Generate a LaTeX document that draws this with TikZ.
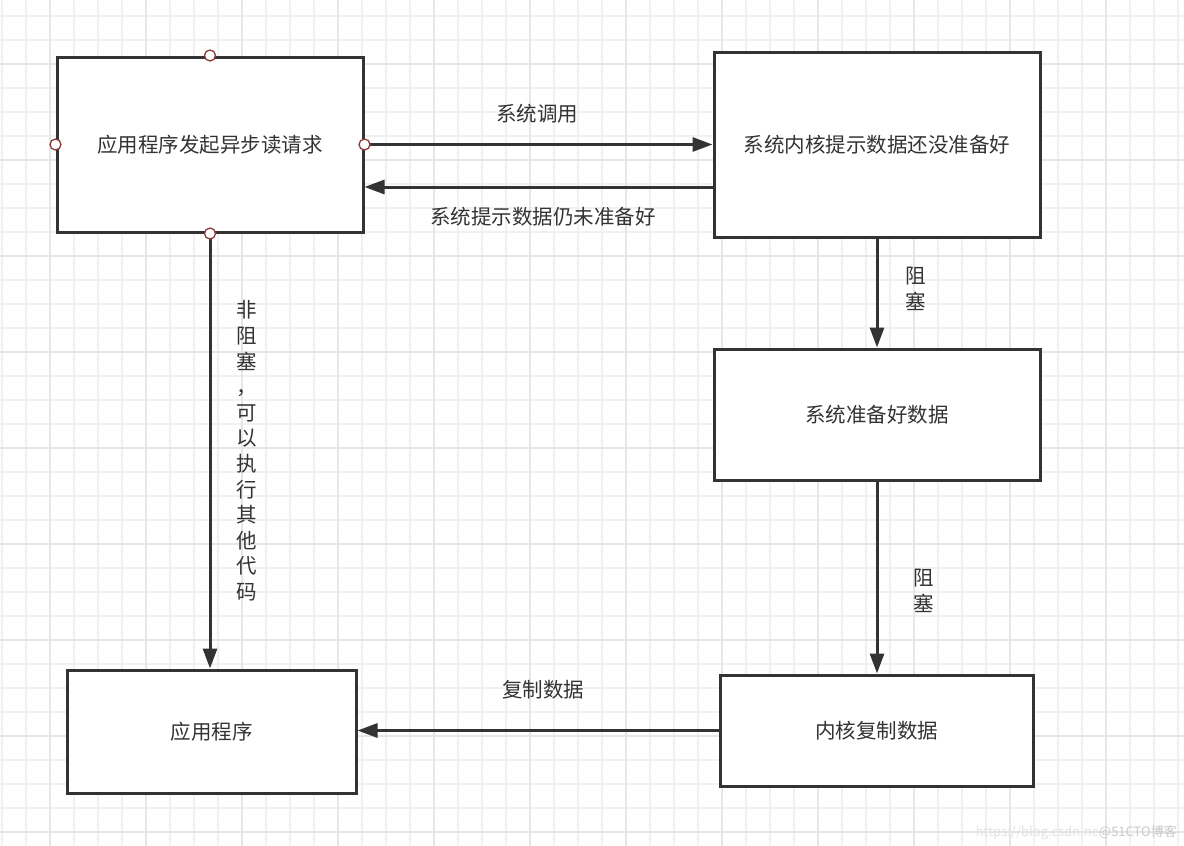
\documentclass[tikz,border=0pt]{standalone}
\usepackage{fontspec}
\newfontfamily\cjk{Noto Sans CJK SC}
\usetikzlibrary{arrows.meta}
\definecolor{ink}{HTML}{333333}
\definecolor{gridminor}{HTML}{F1F1F1}
\definecolor{gridmajor}{HTML}{E6E6E6}
\definecolor{portred}{HTML}{8E3B3B}
\tikzset{
  boxnode/.style={draw=ink, line width=3pt, fill=white, inner sep=0pt, font=\cjk\fontsize{20.5}{24}\selectfont, text=ink},
  lbl/.style={font=\cjk\fontsize{20.5}{24}\selectfont, text=ink, inner sep=0pt, align=center},
  flow/.style={draw=ink, line width=3pt, -{Triangle[length=20pt,width=14pt]}},
  port/.style={draw=portred, line width=1.3pt, fill=white},
}
\begin{document}
\begin{tikzpicture}[x=1pt,y=-1pt]
\useasboundingbox (0,0) rectangle (1184,846);
\fill[white] (0,0) rectangle (1184,846);
% grid
\foreach \k in {0,...,49} {
  \draw[gridminor, line width=1.2pt] ({2+24*\k},0) -- ({2+24*\k},846);
}
\foreach \k in {0,...,34} {
  \draw[gridminor, line width=1.2pt] (0,{16+24*\k}) -- (1184,{16+24*\k});
}
\foreach \k in {0,...,12} {
  \draw[gridmajor, line width=1.5pt] ({50+96*\k},0) -- ({50+96*\k},846);
}
\foreach \k in {0,...,8} {
  \draw[gridmajor, line width=1.5pt] (0,{64+96*\k}) -- (1184,{64+96*\k});
}
% boxes
\node[boxnode, minimum width=306pt, minimum height=175pt] (A) at (210,144.5) {应用程序发起异步读请求};
\node[boxnode, minimum width=326pt, minimum height=185pt] (B) at (877,144.5) {系统内核提示数据还没准备好};
\node[boxnode, minimum width=326pt, minimum height=131pt] (C) at (877,414.5) {系统准备好数据};
\node[boxnode, minimum width=313pt, minimum height=111pt] (D) at (876.5,730.5) {内核复制数据};
\node[boxnode, minimum width=289pt, minimum height=123pt] (E) at (211.5,731.5) {应用程序};
% connectors
\draw[flow] (A.east) -- (B.west);
\draw[flow] ([yshift=-42.5pt]B.west) -- ([yshift=-42.5pt]B.west -| A.east);
\draw[flow] (B.south) -- (C.north);
\draw[flow] (C.south) -- (C.south |- D.north);
\draw[flow] (D.west) -- (D.west -| E.east);
\draw[flow] (A.south) -- (A.south |- E.north);
% ports
\foreach \a in {north,south,east,west} {
  \draw[port] (A.\a) circle (5.5pt);
}
% labels
\node[lbl] (l1) at (537,114) {系统调用};
\node[lbl] (l2) at (543,217) {系统提示数据仍未准备好};
\node[lbl, font=\cjk\fontsize{20.5}{26}\selectfont] (l3) at (916,289) {阻\\塞};
\node[lbl, font=\cjk\fontsize{20.5}{26}\selectfont] (l4) at (924,590.5) {阻\\塞};
\node[lbl] (l5) at (543,690) {复制数据};
\node[lbl, font=\cjk\fontsize{20.5}{25.6}\selectfont] (l6) at (247,451) {非\\阻\\塞\\，\\可\\以\\执\\行\\其\\他\\代\\码};
% watermark
\node[anchor=base east, inner sep=0pt, font=\cjk\fontsize{13}{15}\selectfont] (wm) at (1177,836)
  {\textcolor[HTML]{E2E2E2}{https://blog.csdn.ne}\textcolor[HTML]{C9C9C9}{@51CTO博客}};
\end{tikzpicture}
\end{document}
